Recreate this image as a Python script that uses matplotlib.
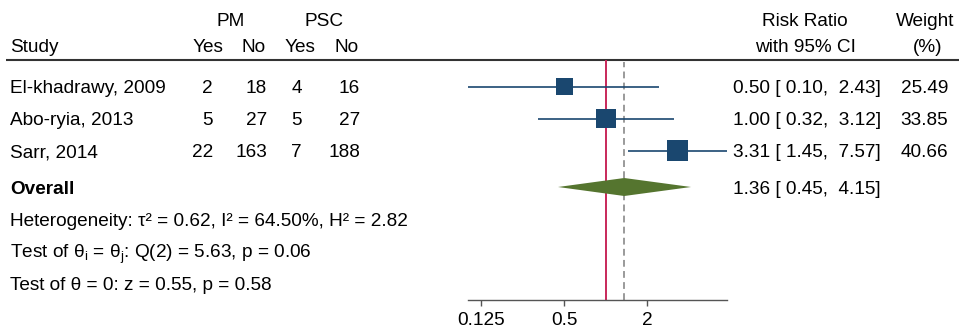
import matplotlib
matplotlib.use("Agg")
import matplotlib.pyplot as plt
import numpy as np

plt.rcParams['font.family'] = ['Liberation Sans', 'DejaVu Sans']
plt.rcParams['mathtext.fontset'] = 'custom'
plt.rcParams['mathtext.rm'] = 'Liberation Sans'

# data
studies = ["El-khadrawy, 2009", "Abo-ryia, 2013", "Sarr, 2014"]
pm_yes = [2, 5, 22]
pm_no = [18, 27, 163]
psc_yes = [4, 5, 7]
psc_no = [16, 27, 188]
rr = [0.50, 1.00, 3.31]
lo = [0.10, 0.32, 1.45]
hi = [2.43, 3.12, 7.57]
weight = [25.49, 33.85, 40.66]
overall = [1.36, 0.45, 4.15]   # estimate, lower, upper
ticks = [0.125, 0.5, 2]
tick_labels = ["0.125", "0.5", "2"]
stats_lines = ["Heterogeneity: τ² = 0.62, I² = 64.50%, H² = 2.82",
               r"Test of θ$_\mathregular{i}$ = θ$_\mathregular{j}$: Q(2) = 5.63, p = 0.06",
               "Test of θ = 0: z = 0.55, p = 0.58"]

navy = "#1a476f"
green = "#55752f"
W, H = 959, 332
fs = 13.7
bl = 6.5   # baseline offset from row centre, px

fig = plt.figure(figsize=(W / 100, H / 100), dpi=100)

# text layer in pixel coords
tx = fig.add_axes([0, 0, 1, 1])
tx.set_xlim(0, W)
tx.set_ylim(H, 0)
tx.axis("off")


def put(x, y, s, ha="left", **kw):
    tx.text(x, y + bl, s, ha=ha, va="baseline", fontsize=fs, **kw)


row_y = lambda i: 86.5 + 32 * i
ov_y = 187

# headers
put(231, 20, "PM", "center")
put(324, 20, "PSC", "center")
put(10, 46, "Study")
for xc, lab in zip([208, 254, 300, 347], ["Yes", "No", "Yes", "No"]):
    put(xc, 46, lab, "center")
put(805, 20, "Risk Ratio", "center")
put(805, 46, "with 95% CI", "center")
put(925, 20, "Weight", "center")
put(928, 46, "(%)", "center")
tx.plot([6, W], [60, 60], color="#333333", lw=1.5, solid_capstyle="butt")

# study rows
for i, s in enumerate(studies):
    y = row_y(i)
    put(10, y, s)
    put(213, y, str(pm_yes[i]), "right")
    put(267, y, str(pm_no[i]), "right")
    put(302, y, str(psc_yes[i]), "right")
    put(360, y, str(psc_no[i]), "right")
    put(733, y, f"{rr[i]:.2f} [{lo[i]:5.2f}, {hi[i]:5.2f}]")
    put(948, y, f"{weight[i]:.2f}", "right")

put(10, ov_y, "Overall", fontweight="bold")
put(733, ov_y, f"{overall[0]:.2f} [{overall[1]:5.2f}, {overall[2]:5.2f}]")
for k, line in enumerate(stats_lines):
    put(10, 219 + 32 * k, line)

# forest panel
top, bot = 60, 300
x0, x1 = 468, 727
ax = fig.add_axes([x0 / W, (H - bot) / H, (x1 - x0) / W, (bot - top) / H])
ax.set_xscale("log", base=2)
ax.set_xlim(min(lo), max(hi))
ax.set_ylim(bot, top)
ax.patch.set_alpha(0)

ax.axvline(1, color="#c8285a", lw=1.4, zorder=1)
ax.axvline(overall[0], ymax=0.99, color="#9a9a9a", lw=1.4, dashes=(3.5, 2.2), zorder=1)

ys = [row_y(i) for i in range(len(studies))]
ax.hlines(ys, lo, hi, color=navy, lw=1.2, zorder=2)
side_pt = [3.37 * np.sqrt(w) * 0.72 for w in weight]
ax.scatter(rr, ys, marker="s", s=[p ** 2 for p in side_pt], color=navy,
           linewidths=0, zorder=3)

hh = 9
ax.fill([overall[1], overall[0], overall[2], overall[0]],
        [ov_y, ov_y - hh, ov_y, ov_y + hh], color=green, lw=0, zorder=3)

for sp in ["top", "right", "left"]:
    ax.spines[sp].set_visible(False)
ax.spines["bottom"].set_color("#555555")
ax.spines["bottom"].set_linewidth(1.0)
ax.set_yticks([])
ax.set_xticks(ticks)
ax.set_xticklabels(tick_labels)
ax.xaxis.set_minor_locator(matplotlib.ticker.NullLocator())
ax.tick_params(axis="x", length=4.5, width=1.0, color="#555555", labelsize=fs, pad=4)

fig.savefig("out.png", dpi=100)
